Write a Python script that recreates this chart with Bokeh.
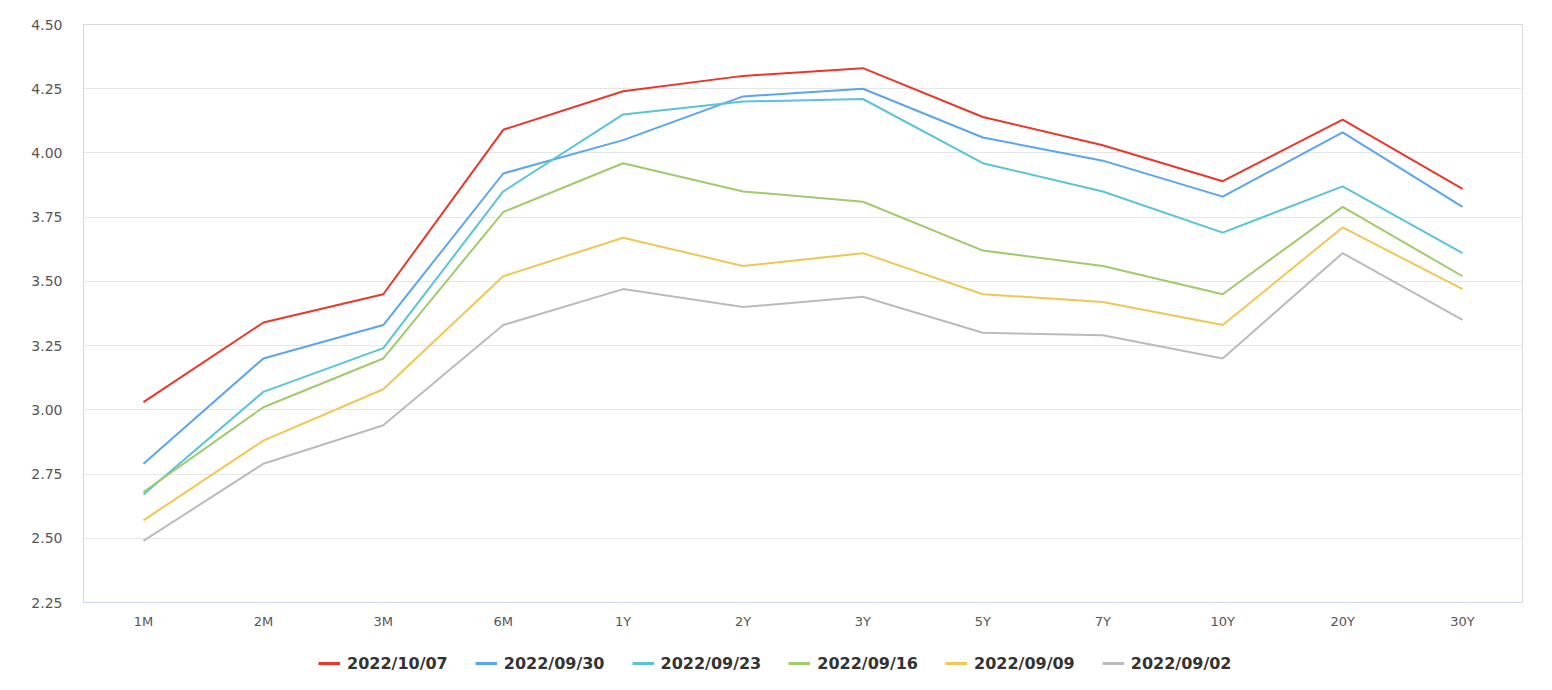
from bokeh.plotting import figure
from bokeh.layouts import column
from bokeh.models import FactorRange, Range1d, FixedTicker, NumeralTickFormatter, Legend, LegendItem
from bokeh.embed import file_html
from bokeh.resources import INLINE

tenors = ["1M", "2M", "3M", "6M", "1Y", "2Y", "3Y", "5Y", "7Y", "10Y", "20Y", "30Y"]
s_1007 = [3.03, 3.34, 3.45, 4.09, 4.24, 4.30, 4.33, 4.14, 4.03, 3.89, 4.13, 3.86]
s_0930 = [2.79, 3.20, 3.33, 3.92, 4.05, 4.22, 4.25, 4.06, 3.97, 3.83, 4.08, 3.79]
s_0923 = [2.67, 3.07, 3.24, 3.85, 4.15, 4.20, 4.21, 3.96, 3.85, 3.69, 3.87, 3.61]
s_0916 = [2.68, 3.01, 3.20, 3.77, 3.96, 3.85, 3.81, 3.62, 3.56, 3.45, 3.79, 3.52]
s_0909 = [2.57, 2.88, 3.08, 3.52, 3.67, 3.56, 3.61, 3.45, 3.42, 3.33, 3.71, 3.47]
s_0902 = [2.49, 2.79, 2.94, 3.33, 3.47, 3.40, 3.44, 3.30, 3.29, 3.20, 3.61, 3.35]
names = ["2022/10/07", "2022/09/30", "2022/09/23", "2022/09/16", "2022/09/09", "2022/09/02"]
colors = ["#e8382a", "#5ba4ee", "#5bc3d8", "#a0ca6c", "#efc755", "#bbbbbb"]
y_ticks = [2.25, 2.50, 2.75, 3.00, 3.25, 3.50, 3.75, 4.00, 4.25, 4.50]

series = [s_1007, s_0930, s_0923, s_0916, s_0909, s_0902]

p = figure(width=1544, height=636, x_range=FactorRange(*tenors, range_padding=0),
           y_range=Range1d(2.25, 4.50), output_backend="svg", toolbar_location=None,
           min_border_left=83, min_border_right=22, min_border_top=24, min_border_bottom=34)

p.outline_line_color = "#d8d8d8"
p.outline_line_width = 1
p.background_fill_color = "white"
p.border_fill_color = "white"

p.xgrid.grid_line_color = None
p.ygrid.grid_line_color = "#e6e6e6"
p.ygrid.grid_line_width = 1

p.yaxis.ticker = FixedTicker(ticks=y_ticks)
p.yaxis.formatter = NumeralTickFormatter(format="0.00")
p.yaxis.axis_line_color = None
p.yaxis.major_tick_line_color = None
p.yaxis.minor_tick_line_color = None
p.yaxis.major_label_standoff = 15
p.yaxis.major_label_text_font = "DejaVu Sans"
p.yaxis.major_label_text_font_size = "14px"
p.yaxis.major_label_text_color = "#555555"

p.xaxis.axis_line_color = "#ccd6eb"
p.xaxis.major_tick_line_color = None
p.xaxis.minor_tick_line_color = None
p.xaxis.major_label_standoff = 5
p.xaxis.major_label_text_font = "DejaVu Sans"
p.xaxis.major_label_text_font_size = "13px"
p.xaxis.major_label_text_color = "#555555"

for name, col, vals in zip(names, colors, series):
    p.line(tenors, vals, line_color=col, line_width=2)

# legend strip below the chart
nan = float("nan")
lg = figure(width=1544, height=46, x_range=Range1d(0, 1), y_range=Range1d(0, 1),
            output_backend="svg", toolbar_location=None,
            min_border_left=0, min_border_right=0, min_border_top=0, min_border_bottom=0)
lg.axis.visible = False
lg.grid.visible = False
lg.outline_line_color = None
items = []
for name, col in zip(names, colors):
    r = lg.line(x=[nan, nan], y=[nan, nan], line_color=col, line_width=3)
    items.append(LegendItem(label=name, renderers=[r]))

legend = Legend(items=items, orientation="horizontal", location=(235, 9),
                glyph_width=22, glyph_height=20, label_standoff=7, spacing=27,
                padding=0, margin=0, border_line_color=None, background_fill_alpha=0,
                label_text_font="DejaVu Sans", label_text_font_style="bold",
                label_text_font_size="16px", label_text_color="#333333")
lg.add_layout(legend, "center")

layout = column(p, lg, spacing=0)
open("out.html", "w").write(file_html(layout, INLINE))
